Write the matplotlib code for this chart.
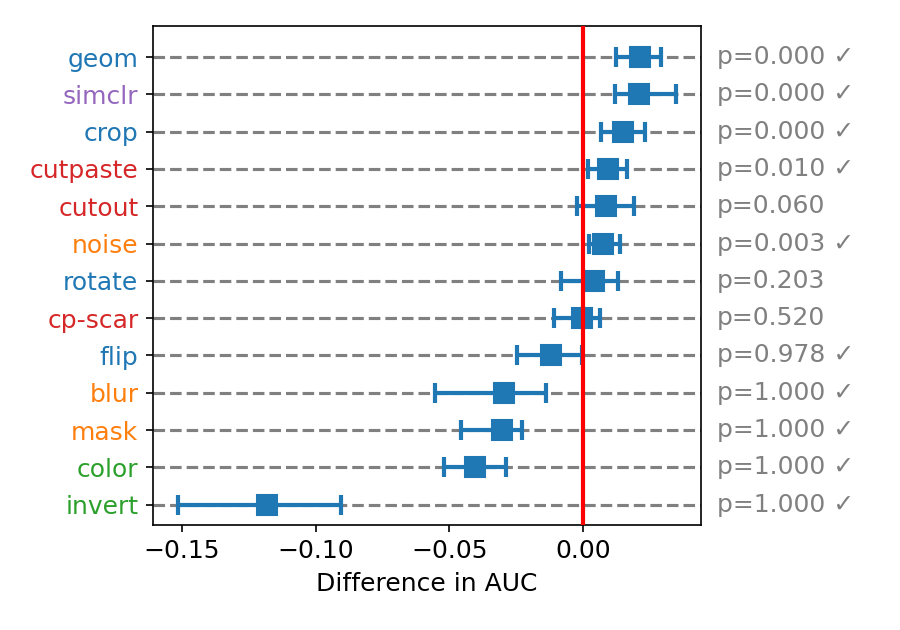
import matplotlib
matplotlib.use("Agg")
import matplotlib.pyplot as plt
import numpy as np

plt.rcParams['font.size'] = 12

names = ["geom", "simclr", "crop", "cutpaste", "cutout", "noise", "rotate",
         "cp-scar", "flip", "blur", "mask", "color", "invert"]
label_colors = ["tab:blue", "tab:purple", "tab:blue", "tab:red", "tab:red",
                "tab:orange", "tab:blue", "tab:red", "tab:blue", "tab:orange",
                "tab:orange", "tab:green", "tab:green"]
mean_diff = [0.0211, 0.0207, 0.0147, 0.0091, 0.0084, 0.0075, 0.0040,
             -0.0003, -0.0120, -0.0295, -0.0304, -0.0403, -0.1181]
ci_low = [0.0124, 0.0120, 0.0068, 0.0016, -0.0025, 0.0020, -0.0085,
          -0.0109, -0.0246, -0.0553, -0.0457, -0.0521, -0.1514]
ci_high = [0.0291, 0.0347, 0.0232, 0.0164, 0.0188, 0.0138, 0.0129,
           0.0064, -0.0003, -0.0139, -0.0230, -0.0290, -0.0904]
p_values = ["0.000", "0.000", "0.000", "0.010", "0.060", "0.003", "0.203",
            "0.520", "0.978", "1.000", "1.000", "1.000", "1.000"]
significant = [True, True, True, True, False, True, False,
               False, True, True, True, True, True]

fig, ax = plt.subplots(figsize=(6, 4.2), dpi=150)
fig.subplots_adjust(left=0.17, right=0.779, top=0.958, bottom=0.167)

y = np.arange(len(names))[::-1]
m = np.array(mean_diff)
lo = m - np.array(ci_low)
hi = np.array(ci_high) - m

ax.grid(axis='y', linestyle='--', color='gray', linewidth=1.5)
ax.set_axisbelow(True)
ax.errorbar(m, y, xerr=[lo, hi], fmt='s', color='tab:blue', markersize=9.5,
            elinewidth=2, capsize=5, capthick=2, zorder=3)
ax.axvline(0, color='red', linewidth=2, zorder=4)

ax.set_yticks(y)
ax.set_yticklabels(names)
for t, c in zip(ax.get_yticklabels(), label_colors):
    t.set_color(c)
ax.set_ylim(-0.54, len(names) - 1 + 0.82)

for yi, p, s in zip(y, p_values, significant):
    txt = f"p={p}" + (" \u2713" if s else "")
    ax.text(0.05, yi, txt, color='gray', ha='left', va='center', clip_on=False)

ax.set_xlabel("Difference in AUC")
fig.savefig("out.png", dpi=150)
